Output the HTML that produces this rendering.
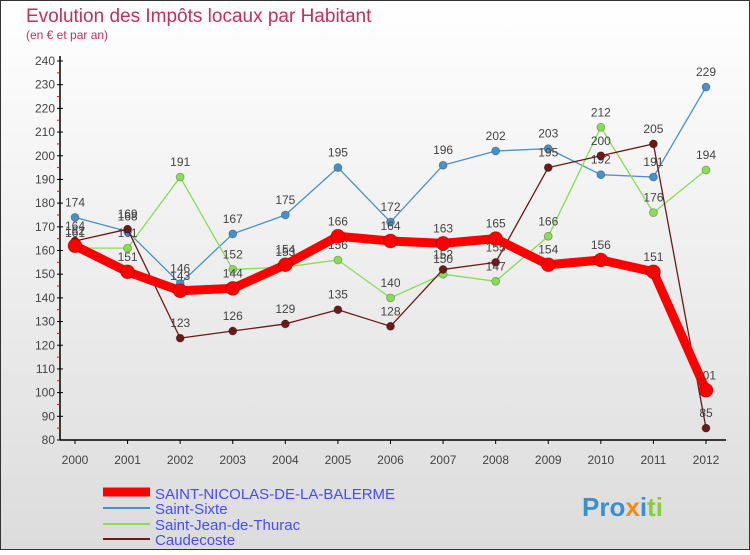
<!DOCTYPE html>
<html><head><meta charset="utf-8"><style>
body{margin:0;width:750px;height:550px;overflow:hidden;font-family:"Liberation Sans",sans-serif}
svg text{font-family:"Liberation Sans",sans-serif}
</style></head><body>
<svg width="750" height="550">
<defs><linearGradient id="bg" x1="0" y1="0" x2="0" y2="1"><stop offset="0" stop-color="#ffffff"/><stop offset="1" stop-color="#dcdcdc"/></linearGradient></defs>
<rect x="0.5" y="0.5" width="749" height="549" fill="url(#bg)" stroke="#333"/>
<text x="26" y="22" font-size="19" fill="#c0305a">Evolution des Impôts locaux par Habitant</text>
<text x="26" y="39" font-size="12" fill="#c0305a">(en € et par an)</text>
<g id="axes"></g>
<g id="series"></g>
<g id="legend">
<line x1="103" y1="492" x2="150" y2="492" stroke="#f00" stroke-width="9"/>
<text x="155" y="499" font-size="15" fill="#4a4aff">SAINT-NICOLAS-DE-LA-BALERME</text>
<line x1="103" y1="508" x2="150" y2="508" stroke="#4a90c8" stroke-width="2"/>
<text x="155" y="514" font-size="15" fill="#4a4aff">Saint-Sixte</text>
<line x1="103" y1="524" x2="150" y2="524" stroke="#88dd55" stroke-width="2"/>
<text x="155" y="530" font-size="15" fill="#4a4aff">Saint-Jean-de-Thurac</text>
<line x1="103" y1="539" x2="150" y2="539" stroke="#6b1a1a" stroke-width="2"/>
<text x="155" y="545" font-size="15" fill="#4a4aff">Caudecoste</text>
</g>
<text x="582" y="516" font-size="26" font-weight="bold"><tspan fill="#3a8fd0">Pro</tspan><tspan fill="#f08a1a">x</tspan><tspan fill="#3a8fd0">i</tspan><tspan fill="#8acc3a">ti</tspan></text>
</svg>
<script>
const years=[2000,2001,2002,2003,2004,2005,2006,2007,2008,2009,2010,2011,2012];
const mainVals=[162,151,143,144,154,166,164,163,165,154,156,151,101];
const sixteVals=[174,168,146,167,175,195,172,196,202,203,192,191,229];
const jeanVals=[161,161,191,152,153,156,140,150,147,166,212,176,194];
const caudeVals=[164,169,123,126,129,135,128,152,155,195,200,205,85];
const yTicks=[80,90,100,110,120,130,140,150,160,170,180,190,200,210,220,230,240];
const NS="http://www.w3.org/2000/svg";
const yMin=80,yMax=240,yTop=61,yBot=440,x0=75,x1=706;
const X=i=>x0+i*(x1-x0)/(years.length-1);
const Y=v=>yBot-(v-yMin)/(yMax-yMin)*(yBot-yTop);
function mk(tag,attrs,parent){const e=document.createElementNS(NS,tag);for(const k in attrs)e.setAttribute(k,attrs[k]);parent.appendChild(e);return e;}
const ax=document.getElementById('axes');
let l=mk('line',{x1:60,y1:yTop-5,x2:60,y2:yBot,stroke:'#000','stroke-width':1.5},ax);


l=mk('line',{x1:60,y1:yBot,x2:x1+20,y2:yBot,stroke:'#000','stroke-width':1.5},ax);


yTicks.forEach((v,i)=>{
 mk('line',{x1:57,y1:Y(v),x2:63,y2:Y(v),stroke:'#000'},ax);
 if(i<yTicks.length-1){const m=mk('line',{x1:57,y1:Y(v+5),x2:60,y2:Y(v+5),stroke:'#f00'},ax);}
 const t=mk('text',{x:55,y:Y(v)+4,'font-size':12,fill:'#444','text-anchor':'end'},ax);
 t.textContent=v;
 
 
});
years.forEach((yr,i)=>{
 mk('line',{x1:X(i),y1:yBot,x2:X(i),y2:yBot+4,stroke:'#000'},ax);
 const t=mk('text',{x:X(i),y:yBot+24,'font-size':12,fill:'#444','text-anchor':'middle'},ax);
 t.textContent=yr;
 
 
});
const sg=document.getElementById('series');
function draw(vals,color,w,r,name){
 const g=mk('g',{},sg);
 
 
 const p=mk('polyline',{points:vals.map((v,i)=>X(i)+','+Y(v)).join(' '),fill:'none',stroke:color,'stroke-width':w,'stroke-linejoin':'round'},g);
 
 
 vals.forEach((v,i)=>{
  const c=mk('circle',{cx:X(i),cy:Y(v),r:r,fill:color,stroke:'rgba(0,0,0,0.3)','stroke-width':0.8},g);
  
  
  const t=mk('text',{x:X(i),y:Y(v)-11,'font-size':12,fill:'#444','text-anchor':'middle'},g);
  t.textContent=v;
  
  
 });
}
draw(sixteVals,'#4a90c8',1.3,4,'saint-sixte');
draw(jeanVals,'#88dd55',1.3,4,'saint-jean');
draw(caudeVals,'#6b1a1a',1.3,4,'caudecoste');
draw(mainVals,'#f00',9,7,'main');
</script>
</body></html>
